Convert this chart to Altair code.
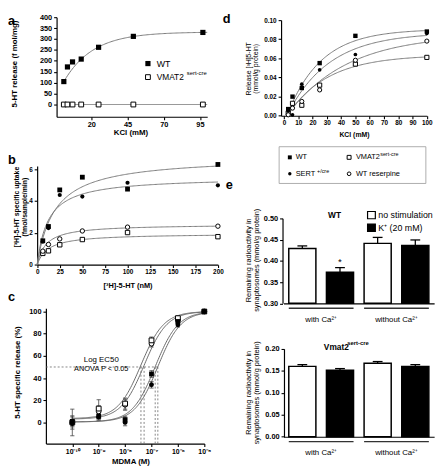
import altair as alt
import numpy as np
import pandas as pd

FONT = "Liberation Sans"
W, H = 435, 464


def VX(X):
    return (X - 2) * 0.99


def VY(Y):
    return (Y - 1) * 0.985


# ------------------------------------------------------------------ data
# a : 5-HT release vs KCl
a_kcl = [1, 3.5, 7, 13, 25, 49, 97]
a_wt = [105, 172, 195, 208, 262, 312, 330]
a_vmat2 = [0, 0, 0, 0, 0, 0, 0]
a_fit = [105, 227, 0.05]          # start, span, rate (one-phase association)

# b : [3H]-5-HT uptake
b_conc = [6.25, 12.5, 25, 50, 100, 200]
b_wt = [1.5, 2.4, 4.7, 5.5, 4.75, 6.3]
b_sert = [1.45, 2.3, 4.38, 4.28, 5.15, 4.99]
b_vmat2 = [0.71, 0.87, 1.25, 1.58, 2.02, 1.76]
b_res = [0.85, 1.27, 1.62, 2.12, 2.36, 2.42]
b_bmax = [6.8, 5.51, 1.96, 2.54]   # WT, SERT, VMAT2, reserpine
b_kd = [19.4, 12.1, 12.1, 9.9]

# c : MDMA dose response
c_dose = [1e-10, 1e-9, 1e-8, 1e-7, 1e-6, 1e-5]
c_wt = [1, 5.5, 2.6, 43.7, 91, 100]
c_wt_err = [4, 3, 3, 3, 2, 0]
c_sert = [-1, 5, 0, 34, 88, 100]
c_sert_err = [3, 3, 3, 3, 2, 0]
c_vmat2 = [0, 12.5, 17, 74, 94, 100]
c_vmat2_err = [12, 8, 5, 3, 2, 0]
c_res = [0, 10, 16, 71, 92, 100]
c_res_err = [6, 5, 5, 3, 2, 0]
c_logec50 = [-6.86, -6.76, -7.40, -7.28]   # WT, SERT, VMAT2, reserpine
c_bottom = [0.5, 0.5, 3.5, 3.0]
c_tick_labels = ["10⁻¹⁰", "10⁻⁹", "10⁻⁸", "10⁻⁷", "10⁻⁶", "10⁻⁵"]

# d : KCl evoked release
d_kcl = [3, 6, 12.5, 25, 50, 100]
d_wt = [0.007, 0.020, 0.029, 0.055, 0.0835, 0.088]
d_sert = [0.005, 0.001, 0.033, 0.048, 0.064, 0.086]
d_vmat2 = [0.003, 0.013, 0.011, 0.032, 0.054, 0.061]
d_res = [0.001, 0.008, 0.015, 0.027, 0.058, 0.078]
d_ymax = [0.0905, 0.087, 0.0635, 0.085]
d_rate = [0.042, 0.034, 0.035, 0.024]

# e : remaining radioactivity
e_groups = ["with Ca²⁺", "without Ca²⁺"]
e_conds = ["no stimulation", "K⁺ (20 mM)"]
e_wt_mean = [0.429, 0.373, 0.441, 0.436]
e_wt_sem = [0.006, 0.011, 0.014, 0.013]
e_vm_mean = [0.160, 0.151, 0.167, 0.160]
e_vm_sem = [0.004, 0.004, 0.004, 0.004]

ONE = pd.DataFrame({"k": [0]})
CURVE = "#7a7a7a"


# ------------------------------------------------------------------ helpers
def axis_kw(lsize, lweight="bold", lpad=2):
    return dict(grid=False, labelFont=FONT, labelFontSize=lsize, labelFontWeight=lweight,
                labelColor="black", labelFlush=False, labelOverlap=False, labelPadding=lpad,
                tickSize=3, tickWidth=1.1, tickColor="black", domainColor="black",
                domainWidth=1.2, titleFont=FONT, titleColor="black", titleAlign="center",
                titleBaseline="middle")


def y_axis(ax_X, values, title, tX, tY, lsize, tsize, tweight="bold", fmt=None, lh=None):
    kw = axis_kw(lsize)
    kw.update(orient="left", offset=-VX(ax_X), values=values, title=title,
              titleX=VX(tX) - VX(ax_X), titleY=VY(tY), titleAngle=270,
              titleFontSize=tsize, titleFontWeight=tweight)
    if fmt:
        kw["format"] = fmt
    if lh:
        kw["titleLineHeight"] = lh
    return alt.Axis(**kw)


def x_axis(ax_Y, values, title, tX, tY, lsize, tsize, tweight="bold", lexpr=None):
    kw = axis_kw(lsize, lpad=1)
    kw.update(orient="bottom", offset=VY(ax_Y) - H, values=values, title=title,
              titleX=VX(tX), titleY=VY(tY) - VY(ax_Y), titleFontSize=tsize,
              titleFontWeight=tweight)
    if lexpr:
        kw["labelExpr"] = lexpr
    return alt.Axis(**kw)


def pts(df, X, Y, shape, filled, size):
    return alt.Chart(df).mark_point(
        shape=shape, filled=True, fill="black" if filled else "white", stroke="black",
        strokeWidth=0 if filled else 1, size=size, opacity=1).encode(x=X, y=Y)


def txt(s, X, Y, size, weight="normal", align="left", baseline="middle"):
    return alt.Chart(ONE).mark_text(
        text=s, font=FONT, fontSize=size, fontWeight=weight, align=align,
        baseline=baseline, color="black").encode(x=alt.value(VX(X)), y=alt.value(VY(Y)))


def sym(X, Y, shape, filled, size):
    return alt.Chart(ONE).mark_point(
        shape=shape, filled=True, fill="black" if filled else "white", stroke="black",
        strokeWidth=0 if filled else 1, size=size, opacity=1).encode(
        x=alt.value(VX(X)), y=alt.value(VY(Y)))


def box(X0, X1, Y0, Y1, fill, stroke, sw):
    return alt.Chart(ONE).mark_rect(fill=fill, stroke=stroke, strokeWidth=sw).encode(
        x=alt.value(VX(X0)), x2=alt.value(VX(X1)), y=alt.value(VY(Y0)), y2=alt.value(VY(Y1)))


# ------------------------------------------------------------------ panel a
ax_sc = alt.Scale(domain=[-4, 100], range=[VX(52), VX(207)], nice=False, zero=False)
ay_sc = alt.Scale(domain=[-56, 400], range=[VY(107), VY(4)], nice=False, zero=False)
aX = alt.X("x:Q", scale=ax_sc,
           axis=x_axis(107, [20, 45, 70, 95], "KCl (mM)", 128, 123, 7.5, 8))
aY = alt.Y("y:Q", scale=ay_sc,
           axis=y_axis(52, list(range(0, 401, 50)), "5-HT release  (f mol/mg)", 8.5, 52, 7.5, 8))

xa = np.linspace(a_kcl[0], 100, 120)
a_curve = pd.DataFrame({"x": xa, "y": a_fit[0] + a_fit[1] * (1 - np.exp(-a_fit[2] * (xa - a_kcl[0])))})
a_wt_df = pd.DataFrame({"x": a_kcl, "y": a_wt})
a_vm_df = pd.DataFrame({"x": a_kcl, "y": a_vmat2})
a_vm_line = pd.DataFrame({"x": [a_kcl[0], 100], "y": [0, 0]})

panel_a = alt.layer(
    alt.Chart(a_curve).mark_line(color=CURVE, strokeWidth=1).encode(x=aX, y=aY),
    alt.Chart(a_vm_line).mark_line(color="#999999", strokeWidth=1.2).encode(x=aX, y=aY),
    pts(a_wt_df, aX, aY, "square", True, 28),
    pts(a_vm_df, aX, aY, "square", False, 24),
)

# ------------------------------------------------------------------ panel b
bx_sc = alt.Scale(domain=[0, 200], range=[VX(32), VX(218)], nice=False, zero=False)
by_sc = alt.Scale(domain=[0, 6.2], range=[VY(260), VY(158)], nice=False, zero=False)
bX = alt.X("x:Q", scale=bx_sc,
           axis=x_axis(260, list(range(0, 201, 25)), "[³H]-5-HT (nM)", 125, 282, 6.5, 7.5))
bY = alt.Y("y:Q", scale=by_sc,
           axis=y_axis(32, [0, 2, 4, 6], ["[³H]-5-HT specific uptake", "(fmol/sample/min)"],
                       11, 200, 6.5, 7, lh=8))

xb = np.linspace(0, 200, 150)
b_curves = pd.concat([pd.DataFrame({"x": xb, "y": bm * xb / (kd + xb), "s": i})
                      for i, (bm, kd) in enumerate(zip(b_bmax, b_kd))])
panel_b = alt.layer(
    alt.Chart(b_curves).mark_line(color=CURVE, strokeWidth=1).encode(x=bX, y=bY, detail="s:N"),
    pts(pd.DataFrame({"x": b_conc, "y": b_vmat2}), bX, bY, "square", False, 20),
    pts(pd.DataFrame({"x": b_conc, "y": b_res}), bX, bY, "circle", False, 20),
    pts(pd.DataFrame({"x": b_conc, "y": b_sert}), bX, bY, "circle", True, 18),
    pts(pd.DataFrame({"x": b_conc, "y": b_wt}), bX, bY, "square", True, 24),
)

# ------------------------------------------------------------------ panel c
cx_sc = alt.Scale(type="log", domain=[1e-11, 1e-5], range=[VX(41), VX(204)], nice=False, zero=False)
cy_dom = [-19, 103]
cy_sc = alt.Scale(domain=cy_dom, range=[VY(445), VY(305)], nice=False, zero=False)
lexpr = " : ".join(
    f"datum.value < {10 ** (-10 + i) * 3:.3g} ? '{lab}'" for i, lab in enumerate(c_tick_labels[:-1])
) + f" : '{c_tick_labels[-1]}'"
cX = alt.X("x:Q", scale=cx_sc,
           axis=x_axis(445, c_dose, "MDMA (M)", 128, 464, 7, 8, lexpr=lexpr))
cY = alt.Y("y:Q", scale=cy_sc,
           axis=y_axis(41, list(range(0, 101, 20)), "5-HT specific release (%)", 12, 371, 7.5, 8))

c_series = [(c_wt, c_wt_err, "square", True), (c_sert, c_sert_err, "circle", True),
            (c_vmat2, c_vmat2_err, "square", False), (c_res, c_res_err, "circle", False)]
lx = np.linspace(-10, -5, 150)
c_curves = pd.concat([pd.DataFrame({"x": 10 ** lx, "y": b0 + (100 - b0) / (1 + 10 ** (ec - lx)), "s": i})
                      for i, (ec, b0) in enumerate(zip(c_logec50, c_bottom))])
c_err = pd.concat([pd.DataFrame({"x": c_dose, "y": np.array(v) - np.array(e), "y2": np.array(v) + np.array(e)})
                   for v, e, _, _ in c_series])
c_cap = pd.concat([pd.DataFrame({"x": np.array(c_dose) / 10 ** 0.08, "x2": np.array(c_dose) * 10 ** 0.08,
                                 "y": np.array(v) + sgn * np.array(e)})
                   for v, e, _, _ in c_series for sgn in (1, -1)])
c_hline = pd.DataFrame({"x": [1e-11], "x2": [10 ** max(c_logec50)], "y": [50]})
c_vlines = pd.DataFrame({"x": [10 ** v for v in c_logec50], "y": [cy_dom[0]] * 4, "y2": [50] * 4})

c_layers = [
    alt.Chart(c_hline).mark_rule(color="#666666", strokeWidth=0.8, strokeDash=[2, 2]).encode(
        x=cX, x2="x2:Q", y=cY),
    alt.Chart(c_vlines).mark_rule(color="#666666", strokeWidth=0.8, strokeDash=[2, 2]).encode(
        x=cX, y=cY, y2="y2:Q"),
    alt.Chart(c_curves).mark_line(color="#6a6a6a", strokeWidth=1).encode(x=cX, y=cY, detail="s:N"),
    alt.Chart(c_err).mark_rule(color="#444444", strokeWidth=0.8).encode(x=cX, y=cY, y2="y2:Q"),
    alt.Chart(c_cap).mark_rule(color="#444444", strokeWidth=0.8).encode(x=cX, x2="x2:Q", y=cY),
]
for v, e, shp, fl in c_series[::-1]:
    c_layers.append(pts(pd.DataFrame({"x": c_dose, "y": v}), cX, cY, shp, fl, 24))
panel_c = alt.layer(*c_layers)

# ------------------------------------------------------------------ panel d
dx_sc = alt.Scale(domain=[-2, 100], range=[VX(283), VX(433)], nice=False, zero=False)
dy_sc = alt.Scale(domain=[0, 0.1], range=[VY(106), VY(7)], nice=False, zero=False)
dX = alt.X("x:Q", scale=dx_sc,
           axis=x_axis(106, list(range(0, 101, 10)), "KCl (mM)", 358, 125, 6.5, 7))
dY = alt.Y("y:Q", scale=dy_sc,
           axis=y_axis(283, [0, 0.02, 0.04, 0.06, 0.08, 0.10], ["Release [³H]5-HT", "(mmol/g protein)"],
                       249.5, 57, 6.5, 7, tweight="normal", fmt=".2f", lh=7.5))
xd = np.linspace(2, 100, 120)
d_curves = pd.concat([pd.DataFrame({"x": xd, "y": ym * (1 - np.exp(-k * (xd - 2))), "s": i})
                      for i, (ym, k) in enumerate(zip(d_ymax, d_rate))])
panel_d = alt.layer(
    alt.Chart(d_curves).mark_line(color=CURVE, strokeWidth=1).encode(x=dX, y=dY, detail="s:N"),
    pts(pd.DataFrame({"x": d_kcl, "y": d_vmat2}), dX, dY, "square", False, 18),
    pts(pd.DataFrame({"x": d_kcl, "y": d_res}), dX, dY, "circle", False, 18),
    pts(pd.DataFrame({"x": d_kcl, "y": d_sert}), dX, dY, "circle", True, 14),
    pts(pd.DataFrame({"x": d_kcl, "y": d_wt}), dX, dY, "square", True, 20),
)


# ------------------------------------------------------------------ panel e
def e_panel(means, sems, ax_X, y_dom, y_rng, y_vals, title_Y, line_Y, lab_Y, star):
    xs = alt.Scale(domain=[0, 4], range=[VX(285.5), VX(440.5)], nice=False, zero=False)
    ys = alt.Scale(domain=y_dom, range=[VY(y_rng[0]), VY(y_rng[1])], nice=False, zero=False)
    xa_kw = dict(orient="bottom", offset=VY(y_rng[0]) - H, labels=False, ticks=False, title=None,
                 grid=False, domainColor="black", domainWidth=1.2)
    yax = y_axis(ax_X, y_vals, ["Remaining radioactivity in", "synaptosomes (mmol/g protein)"],
                 250, title_Y, 7.5, 7.5, tweight="normal", fmt=".2f", lh=7.5)

    def ex(field):
        return alt.X(f"{field}:Q", scale=xs, axis=alt.Axis(**xa_kw))

    def ey(field):
        return alt.Y(f"{field}:Q", scale=ys, axis=yax)

    rows = []
    for i in range(4):
        xc = i + 0.5
        rows.append(dict(x=xc - 0.36, x2=xc + 0.36, xc=xc, y=means[i], top=means[i] + sems[i],
                         c0=xc - 0.13, c1=xc + 0.13, cond=i % 2, base=y_dom[0]))
    df = pd.DataFrame(rows)
    grp = pd.DataFrame({"x": [0.14, 2.14], "x2": [1.86, 3.86], "xc": [1, 3], "g": e_groups})
    layers = [
        alt.Chart(df).mark_rule(color="black", strokeWidth=1.3).encode(x=ex("xc"), y=ey("y"), y2="top:Q"),
        alt.Chart(df).mark_rule(color="black", strokeWidth=1.3).encode(x=ex("c0"), x2="c1:Q", y=ey("top")),
        alt.Chart(df[df.cond == 0]).mark_bar(fill="white", stroke="black", strokeWidth=1.5).encode(
            x=ex("x"), x2="x2:Q", y=ey("y"), y2="base:Q"),
        alt.Chart(df[df.cond == 1]).mark_bar(fill="black", stroke="black", strokeWidth=1.5).encode(
            x=ex("x"), x2="x2:Q", y=ey("y"), y2="base:Q"),
        alt.Chart(grp).mark_rule(color="#333333", strokeWidth=1.5).encode(
            x=ex("x"), x2="x2:Q", y=alt.value(VY(line_Y))),
        alt.Chart(grp).mark_text(font=FONT, fontSize=8, color="black", baseline="middle").encode(
            x=ex("xc"), y=alt.value(VY(lab_Y)), text="g:N"),
    ]
    if star:
        layers.append(alt.Chart(df[df.index == 1]).mark_text(
            text="*", font=FONT, fontSize=10, color="black", baseline="middle", dy=-6).encode(
            x=ex("xc"), y=ey("top")))
    return alt.layer(*layers)


panel_e1 = e_panel(e_wt_mean, e_wt_sem, 284.5, [0.30, 0.50], [300, 212],
                   [0.30, 0.35, 0.40, 0.45, 0.50], 255, 305, 317, True)
panel_e2 = e_panel(e_vm_mean, e_vm_sem, 286, [0.0, 0.20], [438, 347],
                   [0.0, 0.05, 0.10, 0.15, 0.20], 392, 443, 455, False)

# ------------------------------------------------------------------ annotations
notes = [
    txt("a", 2, 8, 13, "bold"), txt("b", 2, 152, 13, "bold"), txt("c", 2, 293, 13, "bold"),
    txt("d", 223, 6, 13, "bold"), txt("e", 226, 178, 13, "bold"),
    # legend a
    sym(146, 52, "square", True, 28), txt("WT", 155, 52, 9),
    sym(146, 66, "square", False, 24), txt("VMAT2", 155, 66, 8.5), txt("sert-cre", 186, 62, 6),
    # text c
    txt("Log EC50", 98, 359, 8, align="center"), txt("ANOVA P < 0.05", 98, 368, 7.5, align="center"),
    # legend d
    box(281, 432, 138, 176, "white", "#999999", 0.8),
    sym(292, 149, "square", True, 16), txt("WT", 298, 149, 7.5),
    sym(353, 149, "square", False, 16), txt("VMAT2", 360, 149, 7.5), txt("sert-cre", 385, 146, 5.5),
    sym(292, 166, "circle", True, 12), txt("SERT", 298, 166, 7.5), txt("+/cre", 320, 163, 5.5),
    sym(353, 166, "circle", False, 14), txt("WT reserpine", 360, 166, 7.5),
    # titles / legend e
    txt("WT", 338, 209, 8.5, "bold", align="center"),
    box(372, 380, 205, 212.5, "white", "black", 1.2), txt(e_conds[0], 383, 208.5, 9),
    box(372, 380, 218, 225.5, "black", "black", 1.2), txt(e_conds[1], 383, 222, 9),
    txt("Vmat2", 327, 345, 8.5, "bold"), txt("sert-cre", 351, 341, 6, "bold"),
]

chart = alt.layer(
    panel_a, panel_b, panel_c, panel_d, panel_e1, panel_e2, *notes
).resolve_scale(x="independent", y="independent").properties(
    width=W, height=H, padding=0
).configure(font=FONT).configure_view(strokeWidth=0)

chart.save("out.html", embed_options={"renderer": "svg", "actions": False})
